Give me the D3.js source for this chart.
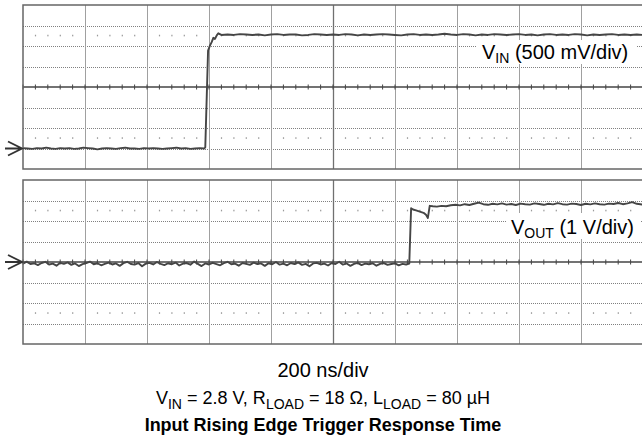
<!DOCTYPE html>
<html>
<head>
<meta charset="utf-8">
<script src="https://cdn.jsdelivr.net/npm/d3@7"></script>
<style>
  html, body { margin: 0; padding: 0; background: #fff; }
  svg { display: block; font-family: "Liberation Sans", Arial, Helvetica, sans-serif; }
</style>
</head>
<body>
<svg id="chart" width="642" height="445"></svg>
<script>
// ---------------- DATA ----------------
// time axis: 200 ns/div, 10 divisions
const timeTicksNs = [0, 200, 400, 600, 800, 1000, 1200, 1400, 1600, 1800, 2000];

// V_IN channel (500 mV/div), volts vs time (ns)
const vinTimeNs = [
  0, 15, 30, 45, 60, 75, 90, 105, 120, 135, 150, 165, 180, 195, 210, 225, 240, 255, 270, 285,
  300, 315, 330, 345, 360, 375, 390, 405, 420, 435, 450, 465, 480, 495, 510, 525, 540, 555, 570, 585,
  588, 597, 603, 609, 614, 619, 625, 630, 640,
  660, 680, 700, 720, 740, 760, 780, 800, 820, 840, 860, 880, 900, 920, 940, 960, 980, 1000,
  1020, 1040, 1060, 1080, 1100, 1120, 1140, 1160, 1180, 1200, 1220, 1240, 1260, 1280, 1300, 1320,
  1340, 1360, 1380, 1400, 1420, 1440, 1460, 1480, 1500, 1520, 1540, 1560, 1580, 1600, 1620, 1640,
  1660, 1680, 1700, 1720, 1740, 1760, 1780, 1800, 1820, 1840, 1860, 1880, 1900, 1920, 1940, 1960, 1980, 2000
];
const vinVolts = [
  0.01, 0.00, -0.01, 0.01, 0.00, 0.02, 0.00, -0.01, 0.01, 0.00, 0.01, -0.01, 0.00, 0.02, 0.01, 0.00, -0.02, 0.00, 0.01, 0.00,
  -0.01, 0.01, 0.02, 0.00, 0.00, -0.01, 0.01, 0.00, 0.01, 0.00, -0.01, 0.00, 0.01, 0.02, 0.00, 0.01, -0.01, 0.00, 0.01, 0.00,
  0.03, 2.39, 2.51, 2.60, 2.70, 2.67, 2.76, 2.81, 2.77,
  2.78, 2.77, 2.79, 2.78, 2.77, 2.78, 2.76, 2.78, 2.79, 2.77, 2.78, 2.78, 2.76, 2.77, 2.79, 2.78, 2.77, 2.78,
  2.77, 2.79, 2.78, 2.76, 2.78, 2.77, 2.78, 2.79, 2.78, 2.77, 2.76, 2.78, 2.79, 2.77, 2.78, 2.77,
  2.78, 2.80, 2.78, 2.77, 2.79, 2.78, 2.76, 2.78, 2.77, 2.79, 2.78, 2.77, 2.78, 2.79, 2.77, 2.78,
  2.76, 2.78, 2.79, 2.77, 2.78, 2.77, 2.79, 2.78, 2.76, 2.78, 2.77, 2.78, 2.79, 2.77, 2.78, 2.77, 2.78, 2.77
];

// V_OUT channel (1 V/div), volts vs time (ns)
const voutTimeNs = [
  0, 12, 24, 36, 48, 60, 72, 84, 96, 108, 120, 132, 144, 156, 168, 180, 192, 204, 216, 228,
  240, 252, 264, 276, 288, 300, 312, 324, 336, 348, 360, 372, 384, 396, 408, 420, 432, 444, 456, 468,
  480, 492, 504, 516, 528, 540, 552, 564, 576, 588, 600, 612, 624, 636, 648, 660, 672, 684, 696, 708,
  720, 732, 744, 756, 768, 780, 792, 804, 816, 828, 840, 852, 864, 876, 888, 900, 912, 924, 936, 948,
  960, 972, 984, 996, 1008, 1020, 1032, 1044, 1056, 1068, 1080, 1092, 1104, 1116, 1128, 1140, 1152, 1164, 1176, 1188,
  1200, 1212, 1224, 1236, 1246,
  1252, 1258, 1268, 1280, 1292, 1300, 1306, 1312, 1322, 1335, 1350, 1365, 1380,
  1395, 1410, 1425, 1440, 1455, 1470, 1485, 1500, 1515, 1530, 1545, 1560, 1575, 1590, 1605, 1620,
  1635, 1650, 1665, 1680, 1695, 1710, 1725, 1740, 1755, 1770, 1785, 1800, 1815, 1830, 1845, 1860,
  1875, 1890, 1905, 1920, 1935, 1950, 1965, 1980, 2000
];
const voutVolts = [
  -0.08, 0.02, -0.10, -0.06, -0.15, -0.05, 0.01, -0.12, -0.08, -0.18, -0.04, -0.09, -0.02, -0.14, -0.07, -0.20, -0.10, -0.05, 0.02, -0.11,
  -0.06, -0.16, -0.09, -0.03, -0.12, -0.07, -0.19, -0.06, 0.01, -0.10, -0.13, -0.05, -0.21, -0.08, -0.04, -0.12, 0.00, -0.09, -0.15, -0.06,
  -0.11, -0.03, -0.17, -0.08, -0.05, -0.13, 0.02, -0.09, -0.20, -0.07, -0.12, -0.04, -0.10, -0.16, -0.06, 0.01, -0.11, -0.08, -0.18, -0.05,
  -0.09, -0.14, -0.03, -0.10, -0.07, -0.19, -0.06, -0.11, 0.00, -0.13, -0.08, -0.16, -0.05, -0.10, -0.02, -0.14, -0.09, -0.21, -0.07, -0.04,
  -0.12, -0.08, -0.17, -0.05, -0.10, 0.01, -0.13, -0.07, -0.19, -0.09, -0.04, -0.15, -0.08, -0.11, -0.06, -0.18, -0.09, -0.05, -0.14, -0.10,
  -0.07, -0.16, -0.09, -0.12, -0.08,
  2.62, 2.56, 2.52, 2.46, 2.40, 2.30, 2.15, 2.74, 2.72, 2.70, 2.74, 2.72, 2.77,
  2.79, 2.76, 2.82, 2.78, 2.84, 2.90, 2.82, 2.79, 2.84, 2.81, 2.86, 2.80, 2.83, 2.78, 2.85, 2.82,
  2.80, 2.86, 2.83, 2.79, 2.84, 2.81, 2.87, 2.82, 2.80, 2.85, 2.83, 2.78, 2.84, 2.81, 2.86, 2.82,
  2.80, 2.85, 2.83, 2.88, 2.82, 2.86, 2.92, 2.84, 2.80
];

// labels
const vinLabel = { main: "V", sub: "IN", rest: " (500 mV/div)" };
const voutLabel = { main: "V", sub: "OUT", rest: " (1 V/div)" };
const captionLine1 = "200 ns/div";
const captionLine3 = "Input Rising Edge Trigger Response Time";

// ---------------- CHART ----------------
const svg = d3.select("#chart");
const left = 23, right = 643;
const x = d3.scaleLinear().domain([0, 2000]).range([left, right]);

const panels = [
  { y: d3.scaleLinear().domain([-0.5, 3.5]).range([169, 5]), step: 0.5,
    time: vinTimeNs, volts: vinVolts, label: vinLabel, lx: 482, ly: 59, box: [477, 40, 160, 24] },
  { y: d3.scaleLinear().domain([-4, 4]).range([344, 180]), step: 1,
    time: voutTimeNs, volts: voutVolts, label: voutLabel, lx: 511, ly: 234, box: [506, 213, 134, 26] }
];

const minorTicks = d3.range(0, 2000.001, 40);

panels.forEach(p => {
  const g = svg.append("g");
  const [d0, d1] = p.y.domain();
  const levels = d3.range(d0, d1 + 1e-9, p.step);
  const center = (d0 + d1) / 2;

  // horizontal dotted grid lines
  levels.filter(v => v > d0 + 1e-9 && v < d1 - 1e-9 && Math.abs(v - center) > 1e-9).forEach(v => {
    g.append("line").attr("x1", left).attr("x2", right)
      .attr("y1", Math.round(p.y(v)) + 0.5).attr("y2", Math.round(p.y(v)) + 0.5)
      .attr("stroke", "#808080").attr("stroke-width", 1).attr("stroke-dasharray", "1,1");
  });

  // vertical grid lines
  timeTicksNs.slice(1, -1).forEach(t => {
    g.append("line").attr("x1", Math.round(x(t)) + 0.5).attr("x2", Math.round(x(t)) + 0.5)
      .attr("y1", p.y(d1)).attr("y2", p.y(d0))
      .attr("stroke", t === 1000 ? "#707070" : "#a0a0a0").attr("stroke-width", t === 1000 ? 1.3 : 1);
  });

  // rows of minor dots
  const dotLevels = [d1 - 1.5 * p.step, d0 + 1.5 * p.step];
  dotLevels.forEach(v => {
    minorTicks.filter(t => t % 200 !== 0).forEach(t => {
      g.append("rect").attr("x", x(t) - 0.5).attr("y", p.y(v) - 1)
        .attr("width", 1.2).attr("height", 1.6).attr("fill", "#9a9a9a");
    });
  });

  // center line with ticks
  const cy = p.y(center);
  g.append("line").attr("x1", left).attr("x2", right).attr("y1", cy).attr("y2", cy)
    .attr("stroke", "#444").attr("stroke-width", 1.3);
  minorTicks.forEach(t => {
    g.append("line").attr("x1", x(t)).attr("x2", x(t)).attr("y1", cy - 2.5).attr("y2", cy + 2.5)
      .attr("stroke", "#444").attr("stroke-width", 1);
  });

  // label background
  g.append("rect").attr("x", p.box[0]).attr("y", p.box[1]).attr("width", p.box[2]).attr("height", p.box[3])
    .attr("fill", "#fff");

  // trace
  const pts = p.time.map((t, i) => [t, p.volts[i]]);
  g.append("path").datum(pts)
    .attr("d", d3.line().x(d => x(d[0])).y(d => p.y(d[1])))
    .attr("fill", "none").attr("stroke", "#454545").attr("stroke-width", 1.9)
    .attr("stroke-linejoin", "round");

  const txt = g.append("text").attr("x", p.lx).attr("y", p.ly)
    .attr("font-size", 20).attr("fill", "#000");
  txt.append("tspan").text(p.label.main);
  txt.append("tspan").attr("font-size", 14).attr("dy", 4).text(p.label.sub);
  txt.append("tspan").attr("dy", -4).text(p.label.rest);

  // border
  g.append("rect").attr("x", left).attr("y", p.y(d1)).attr("width", right - left)
    .attr("height", p.y(d0) - p.y(d1))
    .attr("fill", "none").attr("stroke", "#666").attr("stroke-width", 1.5);

  // ground reference arrow
  const gy = p.y(0);
  g.append("path")
    .attr("d", `M5,${gy}H${left - 1}M8,${gy - 7}L${left - 1},${gy}L8,${gy + 7}`)
    .attr("fill", "none").attr("stroke", "#333").attr("stroke-width", 1.9);
});

// captions
const cx = 323;
svg.append("text").attr("x", cx).attr("y", 377).attr("text-anchor", "middle")
  .attr("font-size", 20).text(captionLine1);

const l2 = svg.append("text").attr("x", cx).attr("y", 404).attr("text-anchor", "middle").attr("font-size", 18);
const parts = [
  ["V", 0], ["IN", 1], [" = 2.8 V, R", 0], ["LOAD", 1], [" = 18 Ω, L", 0], ["LOAD", 1], [" = 80 µH", 0]
];
let prevSub = 0;
parts.forEach(([s, sub]) => {
  const ts = l2.append("tspan").text(s);
  const dy = (sub ? 5 : 0) - (prevSub ? 5 : 0);
  if (dy) ts.attr("dy", dy);
  if (sub) ts.attr("font-size", 14);
  prevSub = sub;
});

svg.append("text").attr("x", cx).attr("y", 431).attr("text-anchor", "middle")
  .attr("font-size", 18).attr("font-weight", "bold").text(captionLine3);
</script>
</body>
</html>
